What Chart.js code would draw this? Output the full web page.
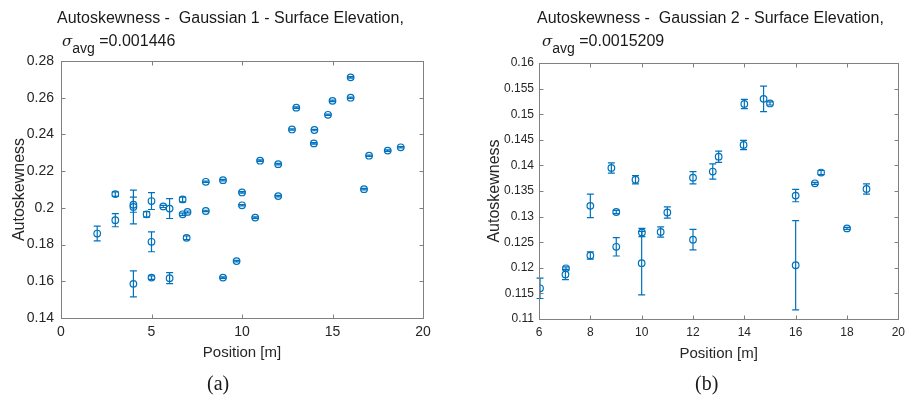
<!DOCTYPE html>
<html>
<head>
  <title>Autoskewness - Gaussian 1 / Gaussian 2</title>
  <script src="https://cdn.jsdelivr.net/npm/chart.js"></script>
  <style>
    body { margin: 0; background: #fff; }
    #fig { position: relative; width: 911px; height: 405px; overflow: hidden;
           font-family: "Liberation Sans", Arial, sans-serif; color: #1a1a1a; }
    canvas { position: absolute; top: 0; }
    .ttl { position: absolute; top: 9px; font-size: 16px; line-height: 18px; white-space: pre; }
    .sig { position: absolute; top: 32px; font-size: 16px; line-height: 18px; white-space: pre; }
    .sig .s { font-family: "DejaVu Serif", serif; font-style: italic; font-size: 15px; }
    .sig .avg { position: relative; top: 7px; font-size: 14px; }
    .cap { position: absolute; top: 372px; font-family: "Liberation Serif", serif; font-size: 20px; }
  </style>
</head>
<body>
<div id="fig">
  <canvas id="chartA" width="455" height="405" style="left:0"></canvas>
  <canvas id="chartB" width="456" height="405" style="left:455px"></canvas>

  <div class="ttl" style="left:57px">Autoskewness -  Gaussian 1 - Surface Elevation,</div>
  <div class="sig" style="left:62px"><span class="s">σ</span><span class="avg">avg</span> =0.001446</div>

  <div class="ttl" style="left:537px">Autoskewness -  Gaussian 2 - Surface Elevation,</div>
  <div class="sig" style="left:542px"><span class="s">σ</span><span class="avg">avg</span> =0.0015209</div>

  <div class="cap" style="left:207px">(a)</div>
  <div class="cap" style="left:695px">(b)</div>
</div>

<script>
  const BLUE = '#0072BD';

  // (a) Gaussian 1
  const pos1 = [2, 3, 3, 4, 4, 4, 4.73, 5, 5, 5, 5.65, 6, 6, 6.72, 6.72, 6.94, 6.99, 8, 8, 8.95,
                8.95, 9.7, 10, 10, 10.73, 11, 12, 12, 12.76, 13, 13.97, 14, 14.75, 15, 16, 16,
                16.74, 17.02, 18.05, 18.77];
  const skew1 = [0.186, 0.2075, 0.1933, 0.2017, 0.2005, 0.1586, 0.1965, 0.2037, 0.1815, 0.162,
                 0.2008, 0.1996, 0.1617, 0.2046, 0.1965, 0.1837, 0.1978, 0.2142, 0.1983, 0.2151,
                 0.162, 0.171, 0.2084, 0.2014, 0.1947, 0.2257, 0.2238, 0.2064, 0.2427, 0.2546,
                 0.2351, 0.2424, 0.2507, 0.2583, 0.2711, 0.2600, 0.2102, 0.2284, 0.2312, 0.2330];
  const err1 = [0.004, 0.0012, 0.0036, 0.0041, 0.0092, 0.0071, 0.0015, 0.0046, 0.0054, 0.001,
                0.0006, 0.0054, 0.003, 0.0013, 0.0006, 0.001, 0.0005, 0.0004, 0.0004, 0.0004,
                0.0004, 0.0004, 0.0004, 0.0004, 0.0004, 0.0004, 0.0004, 0.0004, 0.0004, 0.0004,
                0.0004, 0.0004, 0.0004, 0.0004, 0.0004, 0.0004, 0.0004, 0.0004, 0.0004, 0.0004];
  const xTicks1 = [0, 5, 10, 15, 20];
  const yTicks1 = [0.14, 0.16, 0.18, 0.2, 0.22, 0.24, 0.26, 0.28];
  const yLabels1 = ['0.14', '0.16', '0.18', '0.2', '0.22', '0.24', '0.26', '0.28'];

  // (b) Gaussian 2
  const pos2 = [6.04, 7.03, 7.05, 8, 8, 8.82, 9.01, 9.01, 9.76, 10.01, 10, 10.74, 11, 12, 12,
                12.77, 13, 13.97, 14, 14.75, 15, 16, 16, 16.75, 16.99, 18, 18.76];
  const skew2 = [0.116, 0.1187, 0.1199, 0.1224, 0.1321, 0.1395, 0.1309, 0.1241, 0.1372, 0.1269,
                 0.1209, 0.1270, 0.1308, 0.1376, 0.1255, 0.1388, 0.1417, 0.1440, 0.1520, 0.1530,
                 0.1521, 0.1341, 0.1205, 0.1365, 0.1386, 0.1277, 0.1354];
  const err2 = [0.002, 0.001, 0.0003, 0.0007, 0.0023, 0.001, 0.0003, 0.0018, 0.0008, 0.0008,
                0.0062, 0.001, 0.0011, 0.0012, 0.002, 0.0015, 0.0011, 0.0009, 0.0009, 0.0025,
                0.0003, 0.0012, 0.0087, 0.0002, 0.0004, 0.0002, 0.001];
  const xTicks2 = [6, 8, 10, 12, 14, 16, 18, 20];
  const yTicks2 = [0.11, 0.115, 0.12, 0.125, 0.13, 0.135, 0.14, 0.145, 0.15, 0.155, 0.16];
  const yLabels2 = ['0.11', '0.115', '0.12', '0.125', '0.13', '0.135', '0.14', '0.145', '0.15', '0.155', '0.16'];

  // error bars under the markers, matlab style box with inward ticks on top
  const matlabBox = {
    id: 'matlabBox',
    beforeDatasetsDraw(chart) {
      const { ctx, scales: { x, y } } = chart;
      const cap = 3.5;
      ctx.save();
      ctx.strokeStyle = BLUE;
      ctx.lineWidth = 1.2;
      chart.data.datasets.forEach(ds => {
        ds.data.forEach(p => {
          const px = x.getPixelForValue(p.x);
          const lo = y.getPixelForValue(p.y - p.e);
          const hi = y.getPixelForValue(p.y + p.e);
          ctx.beginPath();
          ctx.moveTo(px, lo); ctx.lineTo(px, hi);
          ctx.moveTo(px - cap, lo); ctx.lineTo(px + cap, lo);
          ctx.moveTo(px - cap, hi); ctx.lineTo(px + cap, hi);
          ctx.stroke();
        });
      });
      ctx.restore();
    },
    afterDraw(chart) {
      const { ctx, chartArea: a, scales: { x, y } } = chart;
      const L = Math.round(a.left) + 0.5, R = Math.round(a.right) + 0.5;
      const T = Math.round(a.top) + 0.5, B = Math.round(a.bottom) + 0.5;
      const len = 4;
      ctx.save();
      ctx.strokeStyle = '#808080';
      ctx.lineWidth = 1;
      ctx.strokeRect(L, T, R - L, B - T);
      ctx.beginPath();
      x.ticks.forEach(t => {
        const px = Math.round(x.getPixelForValue(t.value)) + 0.5;
        ctx.moveTo(px, B); ctx.lineTo(px, B - len);
        ctx.moveTo(px, T); ctx.lineTo(px, T + len);
      });
      y.ticks.forEach(t => {
        const py = Math.round(y.getPixelForValue(t.value)) + 0.5;
        ctx.moveTo(L, py); ctx.lineTo(L + len, py);
        ctx.moveTo(R, py); ctx.lineTo(R - len, py);
      });
      ctx.stroke();
      ctx.restore();
    }
  };

  function makeChart(id, xs, ys, es, xr, yr, xTicks, yTicks, yLabels, box) {
    const pts = xs.map((v, i) => ({ x: v, y: ys[i], e: es[i] }));
    return new Chart(document.getElementById(id), {
      type: 'scatter',
      data: {
        datasets: [{
          data: pts,
          pointStyle: 'circle',
          pointRadius: 3.3,
          pointBorderWidth: 1.2,
          borderColor: BLUE,
          backgroundColor: 'rgba(0,0,0,0)'
        }]
      },
      options: {
        responsive: false,
        animation: false,
        layout: { padding: box.padding },
        plugins: { legend: { display: false }, tooltip: { enabled: false } },
        scales: {
          x: {
            type: 'linear', min: xr[0], max: xr[1],
            afterBuildTicks: s => { s.ticks = xTicks.map(v => ({ value: v })); },
            afterFit: s => { s.height = 47; },
            grid: { display: false, drawTicks: false }, border: { display: false },
            ticks: { padding: 6, color: '#262626', font: { family: 'Liberation Sans', size: box.tickSize },
                     callback: v => String(v), maxRotation: 0 },
            title: { display: true, text: 'Position [m]', color: '#262626',
                     font: { family: 'Liberation Sans', size: 15 }, padding: { top: 0, bottom: 3 } }
          },
          y: {
            type: 'linear', min: yr[0], max: yr[1],
            afterBuildTicks: s => { s.ticks = yTicks.map(v => ({ value: v })); },
            afterFit: s => { s.width = box.yWidth; },
            grid: { display: false, drawTicks: false }, border: { display: false },
            ticks: { padding: box.yPad, color: '#262626', font: { family: 'Liberation Sans', size: box.tickSize },
                     callback: (v, i) => yLabels[i] },
            title: { display: true, text: 'Autoskewness', color: '#262626',
                     font: { family: 'Liberation Sans', size: 16 }, padding: { top: box.yTitlePad, bottom: 0 } }
          }
        }
      },
      plugins: [matlabBox]
    });
  }

  makeChart('chartA', pos1, skew1, err1, [0, 20], [0.14, 0.28], xTicks1, yTicks1, yLabels1,
    { padding: { left: 0, top: 61, right: 32, bottom: 40 }, yWidth: 61, yPad: 7, yTitlePad: 10, tickSize: 14 });
  makeChart('chartB', pos2, skew2, err2, [6, 20], [0.11, 0.16], xTicks2, yTicks2, yLabels2,
    { padding: { left: 0, top: 63, right: 8, bottom: 39 }, yWidth: 84, yPad: 5, yTitlePad: 30, tickSize: 12 });
</script>
</body>
</html>
